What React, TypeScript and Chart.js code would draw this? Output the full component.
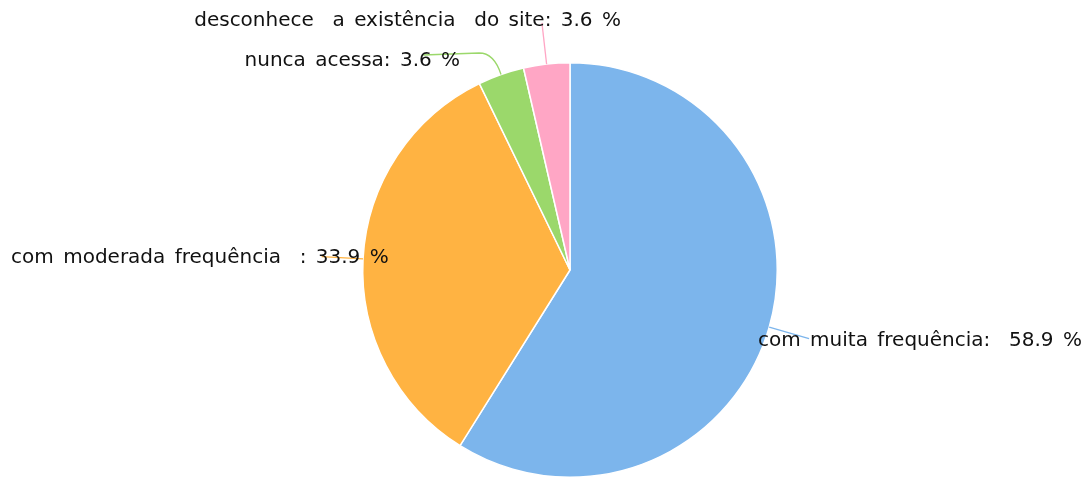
import React, { useEffect, useRef } from "react";
import { Chart, registerables } from "chart.js";

Chart.register(...registerables);

const categories = [
  "com muita frequência:  ",
  "com moderada frequência  : ",
  "nunca acessa: ",
  "desconhece  a existência  do site: ",
];
const values = [58.9, 33.9, 3.6, 3.6];
const colors = ["#7CB5EC", "#FFB342", "#9BD86B", "#FFA6C5"];

// label layout (styling only): leader kind, radius factors and text offsets
const layout = [
  { kind: "straight", endR: 1.2, dx: -51, dy: 2, align: "left" },
  { kind: "straight", endR: 1.2, dx: 67, dy: 1, align: "right" },
  { kind: "bend", endR: 1.1, tail: 71, dx: -34, dy: 6, align: "right" },
  { kind: "straight", endR: 1.2, dx: 79, dy: -2, align: "right" },
];

const leaderPlugin = {
  id: "leaders",
  afterDatasetsDraw(chart: any) {
    const meta = chart.getDatasetMeta(0);
    const ctx = chart.ctx as CanvasRenderingContext2D;
    ctx.save();
    meta.data.forEach((arc: any, i: number) => {
      const p = arc.getProps(["x", "y", "startAngle", "endAngle", "outerRadius"], true);
      const mid = (p.startAngle + p.endAngle) / 2;
      const c = Math.cos(mid);
      const s = Math.sin(mid);
      const sx = p.x + c * p.outerRadius;
      const sy = p.y + s * p.outerRadius;
      const L: any = layout[i];
      const ex = p.x + c * p.outerRadius * L.endR;
      const ey = p.y + s * p.outerRadius * L.endR;
      ctx.strokeStyle = colors[i];
      ctx.lineWidth = 1.3;
      ctx.beginPath();
      ctx.moveTo(sx, sy);
      if (L.kind === "bend") {
        ctx.quadraticCurveTo(ex, ey - 2, ex - 15, ey - 2);
        ctx.lineTo(ex - L.tail, ey);
      } else {
        ctx.lineTo(ex, ey);
      }
      ctx.stroke();
      ctx.fillStyle = "#111";
      ctx.font = "20px 'DejaVu Sans'";
      (ctx as any).wordSpacing = "3px";
      ctx.textAlign = L.align;
      ctx.textBaseline = "middle";
      ctx.fillText(categories[i] + values[i].toFixed(1) + " %", ex + L.dx, ey + L.dy);
    });
    ctx.restore();
  },
};

export default function App() {
  const ref = useRef<HTMLCanvasElement>(null);
  useEffect(() => {
    document.body.style.margin = "0";
    const chart = new Chart(ref.current!, {
      type: "pie",
      data: {
        labels: categories,
        datasets: [
          {
            data: values,
            backgroundColor: colors,
            borderColor: "#ffffff",
            borderWidth: 1.5,
          },
        ],
      },
      options: {
        animation: false,
        responsive: true,
        maintainAspectRatio: false,
        layout: { padding: { left: 51, right: 0, top: 62, bottom: 0 } },
        plugins: { legend: { display: false }, tooltip: { enabled: false } },
      },
      plugins: [leaderPlugin],
    });
    return () => chart.destroy();
  }, []);
  return (
    <div style={{ width: 1089, height: 478, position: "relative" }}>
      <canvas ref={ref} />
    </div>
  );
}
